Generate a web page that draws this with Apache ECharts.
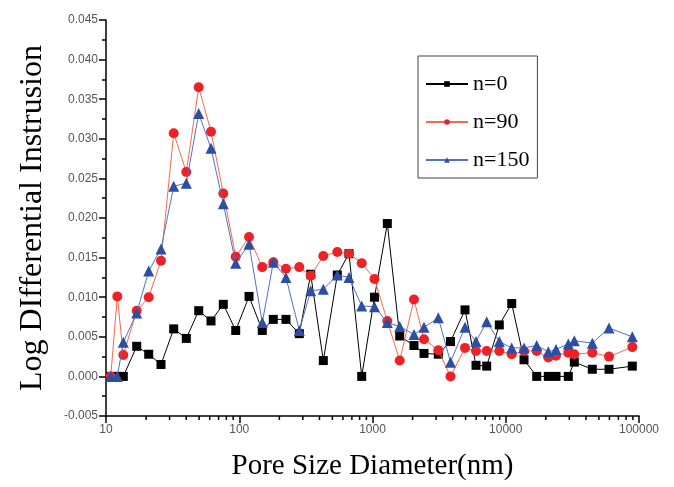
<!DOCTYPE html>
<html>
<head>
<meta charset="utf-8">
<script src="https://cdn.jsdelivr.net/npm/echarts@6/dist/echarts.min.js"></script>
<style>html,body{margin:0;padding:0;background:#fff}#c{width:674px;height:487px}</style>
</head>
<body>
<div id="c"></div>
<script>
// Pore size diameter (nm), shared by all series
const poreSize = [10.85, 12.16, 13.49, 17.00, 20.92, 25.87, 32.22, 40.06, 49.63, 61.38,
  75.92, 94.06, 118.4, 148.9, 180.1, 224.2, 282.3, 343.8, 427.4, 544.3,
  666.2, 829.8, 1035, 1292, 1600, 2048, 2435, 3118, 3849, 4946,
  5981, 7194, 8946, 11085, 13709, 17077, 20862, 23833, 29477, 32698,
  44619, 59564, 89072];
const n0 = [0, 0, 0, 0.0038, 0.0028, 0.0015, 0.0060, 0.0048, 0.0083, 0.0070,
  0.0091, 0.0058, 0.0101, 0.0058, 0.0072, 0.0072, 0.0054, 0.0129, 0.0020, 0.0128,
  0.0155, 0, 0.0100, 0.0193, 0.0051, 0.0039, 0.0029, 0.0028, 0.0044, 0.0084,
  0.0014, 0.0013, 0.0065, 0.0092, 0.0021, 0, 0, 0, 0, 0.0018,
  0.0009, 0.0009, 0.0013];
const n90 = [0, 0.0101, 0.0027, 0.0083, 0.0100, 0.0146, 0.0307, 0.0258, 0.0365, 0.0309,
  0.0231, 0.0151, 0.0176, 0.0138, 0.0144, 0.0136, 0.0138, 0.0127, 0.0152, 0.0157,
  0.0155, 0.0143, 0.0123, 0.0070, 0.0020, 0.0097, 0.0047, 0.0033, 0, 0.0036,
  0.0032, 0.0032, 0.0032, 0.0028, 0.0032, 0.0032, 0.0024, 0.0026, 0.0030, 0.0028,
  0.0030, 0.0025, 0.0037];
const n150 = [0, 0, 0.0043, 0.0080, 0.0133, 0.0161, 0.0240, 0.0244, 0.0332, 0.0288,
  0.0218, 0.0143, 0.0167, 0.0068, 0.0144, 0.0125, 0.0058, 0.0108, 0.0110, 0.0128,
  0.0125, 0.0089, 0.0088, 0.0068, 0.0063, 0.0053, 0.0062, 0.0074, 0.0018, 0.0062,
  0.0044, 0.0069, 0.0044, 0.0036, 0.0036, 0.0039, 0.0031, 0.0034, 0.0041, 0.0045,
  0.0042, 0.0061, 0.0050];
const seriesNames = ['n=0', 'n=90', 'n=150'];
const xTickLabels = ['10', '100', '1000', '10000', '100000'];
const xMinorTicks = [20,30,40,50,60,70,80,90, 200,300,400,500,600,700,800,900,
  2000,3000,4000,5000,6000,7000,8000,9000, 20000,30000,40000,50000,60000,70000,80000,90000];
const yMin = -0.005, yMax = 0.045, yStep = 0.005;

const zip = (xs, ys) => xs.map((x, i) => [x, ys[i]]);
const serif = 'Liberation Serif';

function toNum(v) {
  if (typeof v === 'number') return v;
  if (v && typeof v === 'object' && 'value' in v) return Number(v.value);
  return parseFloat(v);
}
function fmtX(v) {
  const n = toNum(v);
  if (!(n > 0)) return '';
  const k = Math.round(Math.log10(n)) - 1;
  return xTickLabels[k] !== undefined ? xTickLabels[k] : String(Math.round(n));
}
function fmtY(v) {
  const n = toNum(v);
  return isFinite(n) ? n.toFixed(3) : String(v);
}

const chart = echarts.init(document.getElementById('c'));
chart.setOption({
  animation: false,
  backgroundColor: '#fff',
  grid: {left: 106, right: 35, top: 20, bottom: 71},
  legend: {
    data: seriesNames,
    orient: 'vertical',
    left: 418, top: 56,
    padding: [17, 8, 7, 7],
    itemGap: 16,
    itemWidth: 42, itemHeight: 7,
    borderColor: '#444', borderWidth: 1,
    textStyle: {fontFamily: serif, fontSize: 22, color: '#000'}
  },
  xAxis: {
    type: 'log', logBase: 10, min: 10, max: 100000,
    name: 'Pore Size Diameter(nm)', nameLocation: 'middle', nameGap: 36,
    nameTextStyle: {fontFamily: serif, fontSize: 29, color: '#000'},
    axisLine: {show: true, onZero: false, lineStyle: {color: '#000', width: 1.5}},
    axisTick: {show: true, length: 7, lineStyle: {color: '#000', width: 1.5}},
    axisLabel: {formatter: fmtX},
    splitLine: {show: false}
  },
  yAxis: {
    type: 'value', min: yMin, max: yMax, interval: yStep,
    name: 'Log DIfferential Instrusion', nameLocation: 'middle', nameGap: 57,
    nameTextStyle: {fontFamily: serif, fontSize: 32, color: '#000'},
    axisLine: {show: true, onZero: false, lineStyle: {color: '#000', width: 1.5}},
    axisTick: {show: true, length: 7, lineStyle: {color: '#000', width: 1.5}},
    minorTick: {show: true, splitNumber: 2, length: 4, lineStyle: {color: '#000', width: 1.5}},
    axisLabel: {formatter: fmtY},
    splitLine: {show: false}
  },
  series: [
    {
      name: 'n=0', type: 'line', data: zip(poreSize, n0),
      symbol: 'rect', symbolSize: 9,
      lineStyle: {color: '#000', width: 1},
      itemStyle: {color: '#000'}, z: 3
    },
    {
      name: 'n=90', type: 'line', data: zip(poreSize, n90),
      symbol: 'circle', symbolSize: 10,
      lineStyle: {color: '#f26a4f', width: 1},
      itemStyle: {color: '#ec2227'}, z: 4
    },
    {
      name: 'n=150', type: 'line', data: zip(poreSize, n150),
      symbol: 'triangle', symbolSize: 11,
      lineStyle: {color: '#5271c4', width: 1},
      itemStyle: {color: '#2c4ea3'}, z: 5
    },
    {
      type: 'custom', silent: true, z: 10,
      data: xMinorTicks.map(v => [v]),
      renderItem: (params, api) => {
        const p = api.coord([api.value(0), yMin]);
        return {type: 'line', shape: {x1: p[0], y1: p[1], x2: p[0], y2: p[1] + 4},
          style: {stroke: '#000', lineWidth: 1.5}};
      }
    }
  ]
});
</script>
</body>
</html>
